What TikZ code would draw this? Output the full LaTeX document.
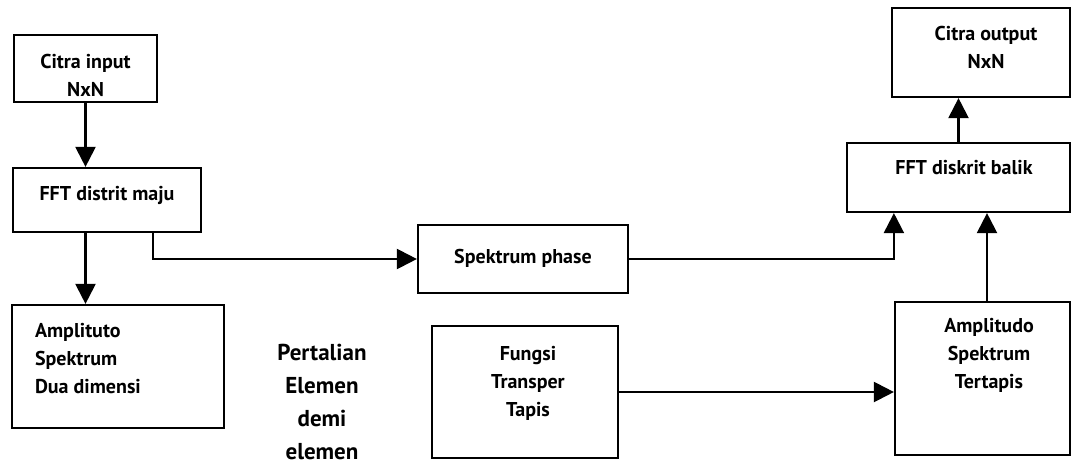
\documentclass[tikz,border=0pt]{standalone}
\usepackage{fontspec}
\setmainfont{PT Sans}
\usetikzlibrary{arrows.meta}
\newcommand{\bt}[4][c]{\hspace*{#2}\raisebox{#3}[0pt][0pt]{\begin{tabular}{@{}#1@{}}#4\end{tabular}}}
\begin{document}
\begin{tikzpicture}[x=1pt,y=-1pt,
  box/.style={draw, line width=2.2pt, inner sep=0pt, font=\fontsize{20}{28}\selectfont\bfseries},
  arr/.style={line width=2.2pt, -{Triangle[length=20pt,width=20pt]}},
  free/.style={font=\fontsize{23}{33}\selectfont\bfseries, align=center, inner sep=0pt}]
\useasboundingbox (0,0) rectangle (1073,466);
\fill[white] (0,0) rectangle (1073,466);

\node[box, minimum width=143pt, minimum height=67pt] (cin) at (85.5,68.5) {\bt{0pt}{-14pt}{Citra input\\NxN}};
\node[box, minimum width=188pt, minimum height=64pt] (fwd) at (107,200) {\bt{0pt}{0pt}{FFT distrit maju}};
\node[box, minimum width=212pt, minimum height=123pt] (amp) at (118,366.5) {\makebox[166pt][l]{\bt[l]{0pt}{1pt}{Amplituto\\Spektrum\\Dua dimensi}}};
\node[box, minimum width=210pt, minimum height=68pt] (pha) at (523,259) {\bt{0pt}{-4.5pt}{Spektrum phase}};
\node[box, minimum width=186pt, minimum height=132pt] (fun) at (525,392) {\bt{6pt}{4pt}{Fungsi\\Transper\\Tapis}};
\node[box, minimum width=223pt, minimum height=69pt] (inv) at (958.5,177.5) {\bt{11pt}{3pt}{FFT diskrit balik}};
\node[box, minimum width=178pt, minimum height=89pt] (cout) at (981,52.5) {\bt{10pt}{-2pt}{Citra output\\NxN}};
\node[box, minimum width=175pt, minimum height=153pt] (ast) at (982.5,378.5) {\bt{13pt}{18pt}{Amplitudo\\Spektrum\\Tertapis}};
\node[free] (pert) at (322,402) {Pertalian\\Elemen\\demi\\elemen};

\coordinate (astin) at ([xshift=4.5pt]ast.north);
\draw[arr] (cin.south) -- (fwd.north -| cin.south);
\draw[arr] (fwd.south -| cin.south) -- (amp.north -| cin.south);
\draw[arr] ([xshift=46pt]fwd.south) |- (pha.west);
\draw[arr] (pha.east) -| (inv.south -| ast.west);
\draw[arr] (astin) -- (astin |- inv.south);
\draw[arr] (inv.north) -- (inv.north |- cout.south);
\draw[arr] (fun.east) -- (fun.east -| ast.west);
\end{tikzpicture}
\end{document}
